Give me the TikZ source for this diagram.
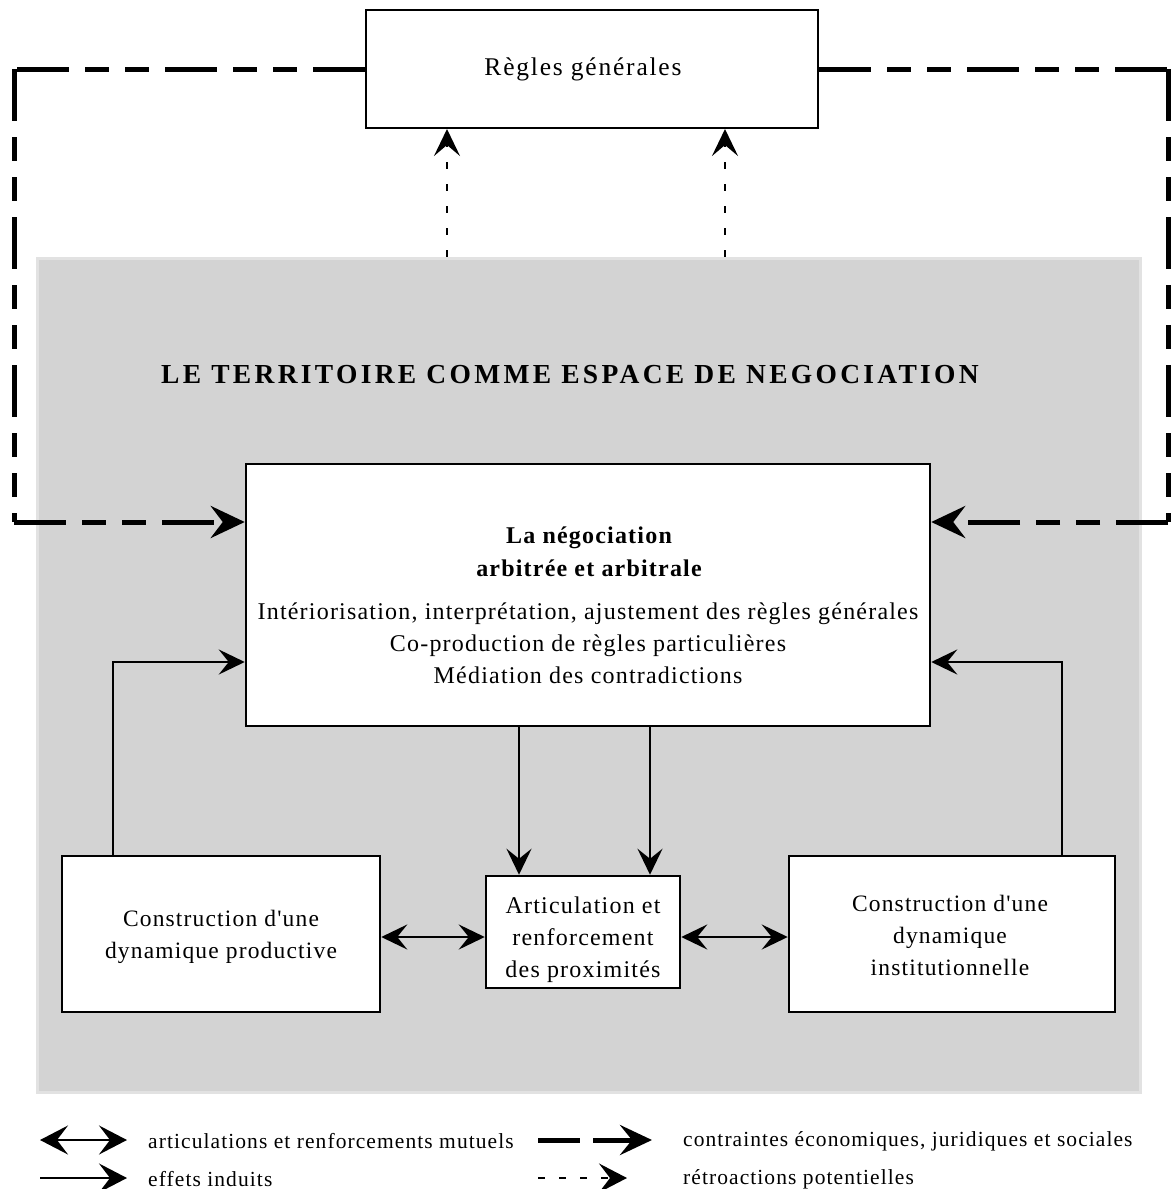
\documentclass[tikz,border=0pt]{standalone}
\usepackage{fontspec}
\setmainfont{Liberation Serif}[LetterSpace=5, Ligatures=TeXOff]
\usetikzlibrary{arrows.meta}
\definecolor{zone}{RGB}{211,211,211}
\definecolor{zoneedge}{RGB}{226,226,226}
\tikzset{
  legtip/.tip={Stealth[length=28pt,width=29pt,inset=11pt]},
  midtip/.tip={Stealth[length=26pt,width=25pt,inset=10pt]}
}

\begin{document}
\begin{tikzpicture}[x=1pt,y=-1pt,
  box/.style={draw, fill=white, line width=2.5pt, inner sep=0pt},
  txt/.style={font=\fontsize{24}{32}\selectfont, align=center, inner sep=0pt},
  legtxt/.style={font=\fontsize{21.5}{24}\selectfont, anchor=west, inner sep=0pt},
  solidarrow/.style={line width=2.6pt, -{midtip}},
  mutual/.style={line width=2.6pt, {midtip}-{midtip}},
  constraint/.style={line width=5pt, dash pattern=on 52pt off 16pt on 24pt off 16pt on 24pt off 16pt,
    -{Stealth[length=34pt,width=32pt,inset=12pt]}},
  constraintline/.style={line width=5pt, dash pattern=on 52pt off 16pt on 24pt off 16pt on 24pt off 16pt},
  feedback/.style={line width=2.6pt, dash pattern=on 7pt off 15pt,
    -{Stealth[length=27pt,width=26pt,inset=11pt]}}
]
\useasboundingbox (0,0) rectangle (1172,1189);
\fill[white] (0,0) rectangle (1172,1189);

% shaded territory
\node[draw=zoneedge, fill=zone, line width=3pt, minimum width=1103pt, minimum height=834pt, inner sep=0pt]
  (zone) at (588.5,675) {};

\node[txt, font=\fontsize{27.5}{32}\selectfont\bfseries\addfontfeature{LetterSpace=12}] (title) at (570,375)
  {LE TERRITOIRE COMME ESPACE DE NEGOCIATION};

% boxes
\node[box, line width=2pt, minimum width=452pt, minimum height=118pt] (regles) at (592,69) {};
\node[txt, font=\fontsize{25.5}{32}\selectfont\addfontfeature{LetterSpace=7}] (reglestxt) at (583,69) {Règles générales};

\node[box, minimum width=684pt, minimum height=262pt] (central) at (588,595) {};
\node[txt, font=\fontsize{24}{33}\selectfont\bfseries] (centralhead) at (589,552)
  {La négociation\\arbitrée et arbitrale};
\node[txt] (centralbody) at (588,643)
  {Intériorisation, interprétation, ajustement des règles générales\\
   Co-production de règles particulières\\
   Médiation des contradictions};

\node[box, minimum width=318pt, minimum height=156pt] (left) at (221,934) {};
\node[txt, font=\fontsize{23.5}{32}\selectfont] (lefttxt) at (221,937) {Construction d'une\\dynamique productive};

\node[box, minimum width=194pt, minimum height=112pt] (middle) at (583,932) {};
\node[txt] (middletxt) at (583,940) {Articulation et\\renforcement\\des proximités};

\node[box, minimum width=326pt, minimum height=156pt] (right) at (952,934) {};
\node[txt, font=\fontsize{23.5}{32}\selectfont] (righttxt) at (950,935) {Construction d'une\\dynamique\\institutionnelle};

% induced effects
\draw[solidarrow] ([xshift=-69pt]central.south) -- ([xshift=-64pt]middle.north);
\draw[solidarrow] ([xshift=62pt]central.south) -- ([xshift=67pt]middle.north);
\draw[solidarrow] ([xshift=-108pt]left.north) |- ([yshift=-67pt]central.west);
\draw[solidarrow] ([xshift=110pt]right.north) |- ([yshift=-67pt]central.east);

% mutual reinforcement
\draw[mutual] ([yshift=-3pt]left.east) -- ([yshift=-5pt]middle.west);
\draw[mutual] ([yshift=-5pt]middle.east) -- ([yshift=-3pt]right.west);

% potential feedback
\draw[feedback] ([xshift=-145pt]regles.south |- zone.north) -- ([xshift=-145pt]regles.south);
\draw[feedback] ([xshift=133pt]regles.south |- zone.north) -- ([xshift=133pt]regles.south);

% economic, legal and social constraints
\coordinate (lt) at (14,69);
\coordinate (lb) at (14,522);
\coordinate (rt) at (1168,69);
\coordinate (rb) at (1168,522);
\draw[constraintline] ([xshift=3pt]lt) -- (regles.west);
\draw[constraintline] (lt) -- (lb);
\draw[constraint] (lb) -- ([yshift=73pt]central.west);
\draw[constraintline] (regles.east) -- (rt);
\draw[constraintline] (rt) -- (rb);
\draw[constraint] (rb) -- ([yshift=73pt]central.east);

% legend
\coordinate (l1a) at (40,1140);  \coordinate (l1b) at (127,1140);
\coordinate (l2a) at (40,1178);  \coordinate (l2b) at (127,1178);
\coordinate (l3a) at (538,1140); \coordinate (l3b) at (580,1140);
\coordinate (l3c) at (593,1140); \coordinate (l3d) at (652,1140);
\coordinate (l4a) at (538,1178); \coordinate (l4b) at (627,1178);
\draw[line width=2pt, {legtip}-{legtip}] (l1a) -- (l1b);
\draw[line width=2pt, -{legtip}] (l2a) -- (l2b);
\draw[line width=5pt] (l3a) -- (l3b);
\draw[line width=5pt, -{Stealth[length=32pt,width=30pt,inset=12pt]}] (l3c) -- (l3d);
\draw[line width=2.6pt, dash pattern=on 7pt off 14pt, -{legtip}] (l4a) -- (l4b);
\node[legtxt] (leg1) at (148,1141) {articulations et renforcements mutuels};
\node[legtxt] (leg2) at (148,1179) {effets induits};
\node[legtxt] (leg3) at (683,1141) {contraintes économiques, juridiques et sociales};
\node[legtxt] (leg4) at (683,1179) {rétroactions potentielles};
\end{tikzpicture}
\end{document}
